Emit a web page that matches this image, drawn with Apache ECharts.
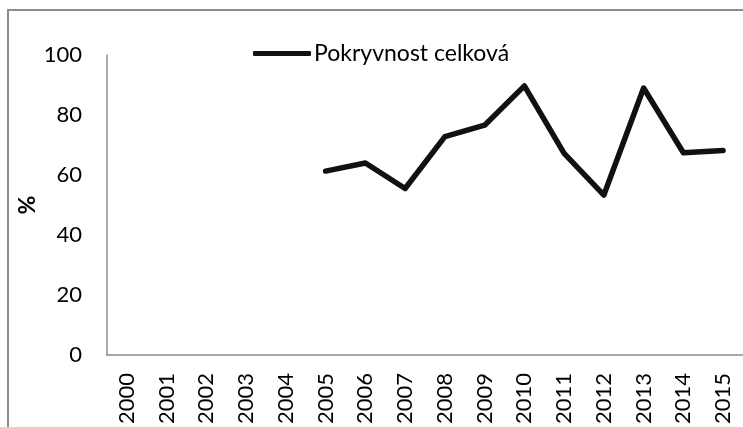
<!DOCTYPE html>
<html>
<head>
<meta charset="utf-8">
<script src="https://cdn.jsdelivr.net/npm/echarts@6/dist/echarts.min.js"></script>
<style>
  html, body { margin: 0; padding: 0; background: #fff; }
  #chart { width: 743px; height: 427px; }
</style>
</head>
<body>
<div id="chart"></div>
<script>
// Years on the category axis
const years = ['2000', '2001', '2002', '2003', '2004', '2005', '2006', '2007',
               '2008', '2009', '2010', '2011', '2012', '2013', '2014', '2015'];
// Total vegetation cover (%), no records before 2005
const coverTotal = [null, null, null, null, null, 61.3, 64.0, 55.5,
                    72.8, 76.6, 89.7, 67.2, 53.3, 89.0, 67.4, 68.2];
const seriesName = 'Pokryvnost celková';
const yTicks = [0, 20, 40, 60, 80, 100];

const FONT = 'Lato';
const chart = echarts.init(document.getElementById('chart'));

chart.setOption({
  backgroundColor: '#ffffff',
  animation: false,
  textStyle: { fontFamily: FONT },
  graphic: [{
    // outer chart frame (runs past the right and bottom edges)
    type: 'rect',
    shape: { x: 8, y: 10, width: 800, height: 500 },
    style: { fill: 'none', stroke: '#8c8c8c', lineWidth: 2 },
    silent: true
  }],
  legend: {
    left: 248,
    top: 37,
    itemWidth: 58,
    itemHeight: 5,
    itemGap: 4,
    textStyle: { fontFamily: FONT, fontSize: 23, color: '#000', padding: [0, 0, 0, -2] },
    data: [{ name: seriesName, icon: 'roundRect' }],
    itemStyle: { color: '#111', borderWidth: 0 }
  },
  grid: { left: 107, top: 55, width: 643, height: 300, containLabel: false },
  xAxis: {
    type: 'category',
    data: years,
    boundaryGap: true,
    axisLine: { lineStyle: { color: '#8c8c8c', width: 1.5 } },
    axisTick: { show: false },
    axisLabel: {
      rotate: 90,
      margin: 18,
      interval: 0,
      fontFamily: FONT,
      fontSize: 22,
      color: '#000'
    }
  },
  yAxis: {
    type: 'value',
    min: yTicks[0],
    max: yTicks[yTicks.length - 1],
    interval: yTicks[1] - yTicks[0],
    name: '%',
    nameLocation: 'middle',
    nameRotate: 90,
    nameGap: 68,
    nameMoveOverlap: false,
    nameTextStyle: { fontFamily: FONT, fontSize: 23, fontWeight: 'bold', color: '#000' },
    axisLine: { show: true, lineStyle: { color: '#8c8c8c', width: 1.5 } },
    axisTick: { show: false },
    splitLine: { show: false },
    axisLabel: { margin: 25, fontFamily: FONT, fontSize: 22, color: '#000' }
  },
  series: [{
    name: seriesName,
    type: 'line',
    data: coverTotal,
    symbol: 'none',
    connectNulls: false,
    lineStyle: { color: '#111', width: 5.5, join: 'round', cap: 'round' },
    itemStyle: { color: '#111' }
  }]
});
</script>
</body>
</html>
